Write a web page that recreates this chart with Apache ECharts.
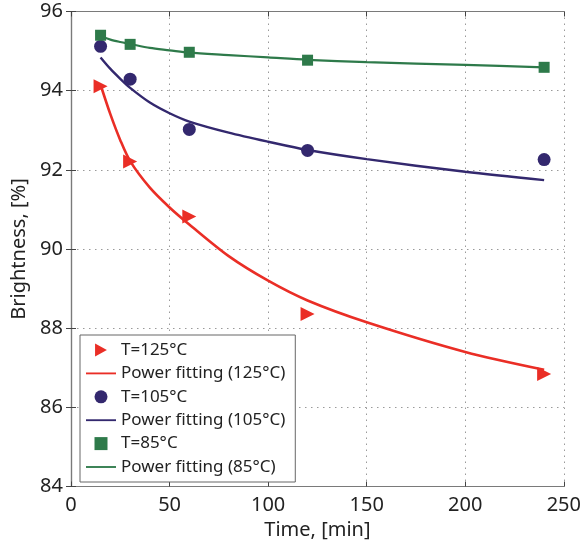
<!DOCTYPE html>
<html>
<head>
<meta charset="utf-8">
<script src="https://cdn.jsdelivr.net/npm/echarts@6/dist/echarts.min.js"></script>
<style>html,body{margin:0;padding:0;background:#fff}#c{width:584px;height:546px}</style>
</head>
<body>
<div id="c"></div>
<script>
// measured points
const timesMeas = [15, 30, 60, 120, 240];
const t125 = [94.11, 92.21, 90.82, 88.36, 86.84];
const t105 = [95.12, 94.29, 93.02, 92.49, 92.26];
const t85  = [95.40, 95.17, 94.97, 94.77, 94.59];
// fitted curves
const timesFit = [15, 20, 25, 30, 40, 50, 60, 80, 100, 120, 150, 200, 240];
const fit125 = [94.15, 93.40, 92.75, 92.22, 91.55, 91.05, 90.62, 89.82, 89.20, 88.70, 88.15, 87.40, 86.95];
const fit105 = [94.84, 94.55, 94.30, 94.07, 93.70, 93.43, 93.22, 92.94, 92.71, 92.50, 92.27, 91.95, 91.74];
const fit85  = [95.38, 95.29, 95.23, 95.18, 95.08, 95.02, 94.96, 94.90, 94.84, 94.78, 94.72, 94.65, 94.59];
const xTicks = [0, 50, 100, 150, 200, 250];
const yTicks = [84, 86, 88, 90, 92, 94, 96];
const names = ['T=125\u00B0C', 'Power fitting (125\u00B0C)', 'T=105\u00B0C', 'Power fitting (105\u00B0C)', 'T=85\u00B0C', 'Power fitting (85\u00B0C)'];

const RED = '#ea2e26', NAVY = '#33286e', GREEN = '#2e7a4a';
const FONT = 'Noto Sans';
const pair = (xs, ys) => xs.map((x, i) => [x, ys[i]]);

const ICON_TRI = 'path://M0,0L10,5.5L0,11Z';
const ICON_SQ = 'path://M0,0H10V10H0Z';
const ICON_LINE = 'path://M0,0H26V1.6H0Z';

const chart = echarts.init(document.getElementById('c'), null, {renderer: 'canvas'});
const gridLine = {show: true, lineStyle: {color: '#9a9a9a', type: [1.5, 4.5], width: 1}};
const axLine = {show: true, lineStyle: {color: '#7a7a7a', width: 1.2}};
chart.setOption({
  animation: false,
  backgroundColor: '#fff',
  textStyle: {fontFamily: FONT},
  grid: {left: 71, right: 17.5, top: 11.5, bottom: 59.5},
  xAxis: [{
    type: 'value', min: xTicks[0], max: xTicks[xTicks.length - 1], interval: 50,
    name: 'Time, [min]', nameLocation: 'middle', nameGap: 30,
    nameTextStyle: {fontSize: 20, color: '#222', fontFamily: FONT},
    axisLine: axLine, axisTick: {show: true, inside: true, length: 5, lineStyle: {color: '#444'}},
    axisLabel: {fontSize: 20, color: '#222', margin: 9, fontFamily: FONT},
    splitLine: gridLine
  }, {
    type: 'value', position: 'top', min: 0, max: 250, interval: 50,
    axisLine: axLine, axisTick: {show: true, inside: true, length: 5, lineStyle: {color: '#444'}},
    axisLabel: {show: false}, splitLine: {show: false}
  }],
  yAxis: [{
    type: 'value', min: yTicks[0], max: yTicks[yTicks.length - 1], interval: 2,
    name: 'Brightness, [%]', nameLocation: 'middle', nameGap: 41, nameRotate: 90,
    nameTextStyle: {fontSize: 20, color: '#222', fontFamily: FONT},
    axisLine: axLine, axisTick: {show: true, inside: true, length: 5, lineStyle: {color: '#444'}},
    axisLabel: {fontSize: 20, color: '#222', margin: 8, fontFamily: FONT},
    splitLine: gridLine
  }, {
    type: 'value', position: 'right', min: 84, max: 96, interval: 2,
    axisLine: axLine, axisTick: {show: true, inside: true, length: 5, lineStyle: {color: '#444'}},
    axisLabel: {show: false}, splitLine: {show: false}
  }],
  legend: {
    orient: 'vertical', left: 80, top: 335,
    padding: [5, 10, 5, 6],
    backgroundColor: '#fff', borderColor: '#666', borderWidth: 1,
    itemWidth: 30, itemHeight: 13, itemGap: 3.4,
    symbolKeepAspect: true,
    textStyle: {fontSize: 17, color: '#222', fontFamily: FONT, lineHeight: 20},
    data: [
      {name: names[0], icon: ICON_TRI},
      {name: names[1], icon: ICON_LINE},
      {name: names[2], icon: 'circle'},
      {name: names[3], icon: ICON_LINE},
      {name: names[4], icon: ICON_SQ},
      {name: names[5], icon: ICON_LINE}
    ]
  },
  series: [
    {name: names[0], type: 'scatter', data: pair(timesMeas, t125), symbol: 'triangle', symbolRotate: -90, symbolSize: 14, itemStyle: {color: RED, opacity: 1}, z: 5},
    {name: names[1], type: 'line', data: pair(timesFit, fit125), smooth: 0.3, symbol: 'none', lineStyle: {color: RED, width: 2.6}, itemStyle: {color: RED}, z: 3},
    {name: names[2], type: 'scatter', data: pair(timesMeas, t105), symbol: 'circle', symbolSize: 13, itemStyle: {color: NAVY, opacity: 1}, z: 5},
    {name: names[3], type: 'line', data: pair(timesFit, fit105), smooth: 0.3, symbol: 'none', lineStyle: {color: NAVY, width: 2.4}, itemStyle: {color: NAVY}, z: 3},
    {name: names[4], type: 'scatter', data: pair(timesMeas, t85), symbol: 'rect', symbolSize: 11, itemStyle: {color: GREEN, opacity: 1}, z: 5},
    {name: names[5], type: 'line', data: pair(timesFit, fit85), smooth: 0.3, symbol: 'none', lineStyle: {color: GREEN, width: 2.2}, itemStyle: {color: GREEN}, z: 3}
  ]
});
</script>
</body>
</html>
